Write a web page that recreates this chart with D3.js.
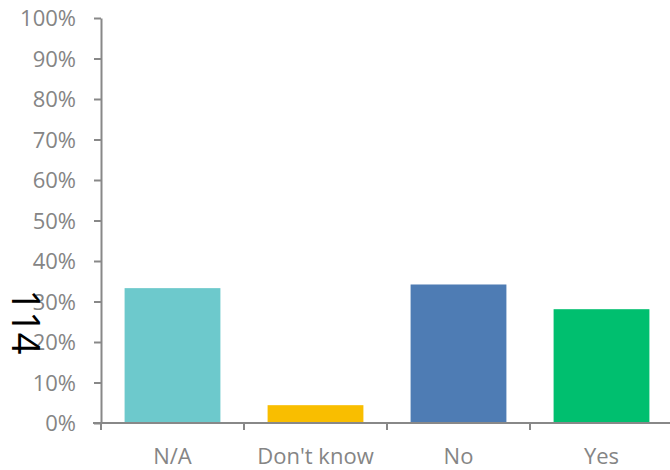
<!DOCTYPE html>
<html><head><meta charset="utf-8">
<script src="https://cdn.jsdelivr.net/npm/d3@7"></script>
<style>body{margin:0;background:#fff}svg{display:block}</style>
</head><body>
<script>
const categories = ["N/A", "Don't know", "No", "Yes"];
const values = [33.3, 4.4, 34.2, 28.1];
const colors = ["#6DC9CC", "#F9BE00", "#4E7CB4", "#00BF6F"];
const yTicks = [0,10,20,30,40,50,60,70,80,90,100];
const sideLabel = "114";

const W = 670, H = 470;
const m = {left:101, top:18, bottom:47};
const svg = d3.select("body").append("svg").attr("width",W).attr("height",H);
const x = d3.scaleBand().domain(categories).range([m.left, m.left + 143*4]).paddingInner(0.33).paddingOuter(0.165);
const y = d3.scaleLinear().domain([0,100]).range([H-m.bottom, m.top]);
const axisColor = "#888";
const font = "'Open Sans', 'Liberation Sans', sans-serif";

// bars
svg.selectAll("rect.bar").data(values).enter().append("rect")
  .attr("x",(d,i)=>x(categories[i])).attr("width",x.bandwidth())
  .attr("y",d=>y(d)).attr("height",d=>y(0)-y(d))
  .attr("fill",(d,i)=>colors[i]);

// y axis
const ya = svg.append("g").attr("transform",`translate(${m.left},0)`)
  .call(d3.axisLeft(y).tickValues(yTicks).tickFormat(d=>d+"%").tickSize(7).tickSizeOuter(0).tickPadding(18));
ya.selectAll("path,line").attr("stroke",axisColor).attr("stroke-width",2);
ya.selectAll("text").attr("fill","#858585").style("font-size","22px").style("font-family",font).attr("dy","0.36em");

// x axis
const xa = svg.append("g").attr("transform",`translate(0,${y(0)})`);
xa.append("line").attr("x1",m.left-8).attr("x2",W).attr("stroke",axisColor).attr("stroke-width",2);
const bounds = [0,1,2,3].map(i => m.left + i*x.step());
xa.selectAll("line.tk").data(bounds).enter().append("line")
  .attr("x1",d=>d).attr("x2",d=>d).attr("y1",0).attr("y2",7).attr("stroke",axisColor).attr("stroke-width",2);
xa.selectAll("text").data(categories).enter().append("text")
  .attr("x",d=>x(d)+x.bandwidth()/2).attr("y",41).attr("text-anchor","middle")
  .attr("fill","#858585").style("font-size","22px").style("font-family",font).text(d=>d);

// side label
svg.append("text").attr("transform","translate(12,322) rotate(90)")
  .attr("text-anchor","middle").attr("fill","#000")
  .style("font-size","38px").style("font-family",font).text(sideLabel);
</script>
</body></html>
